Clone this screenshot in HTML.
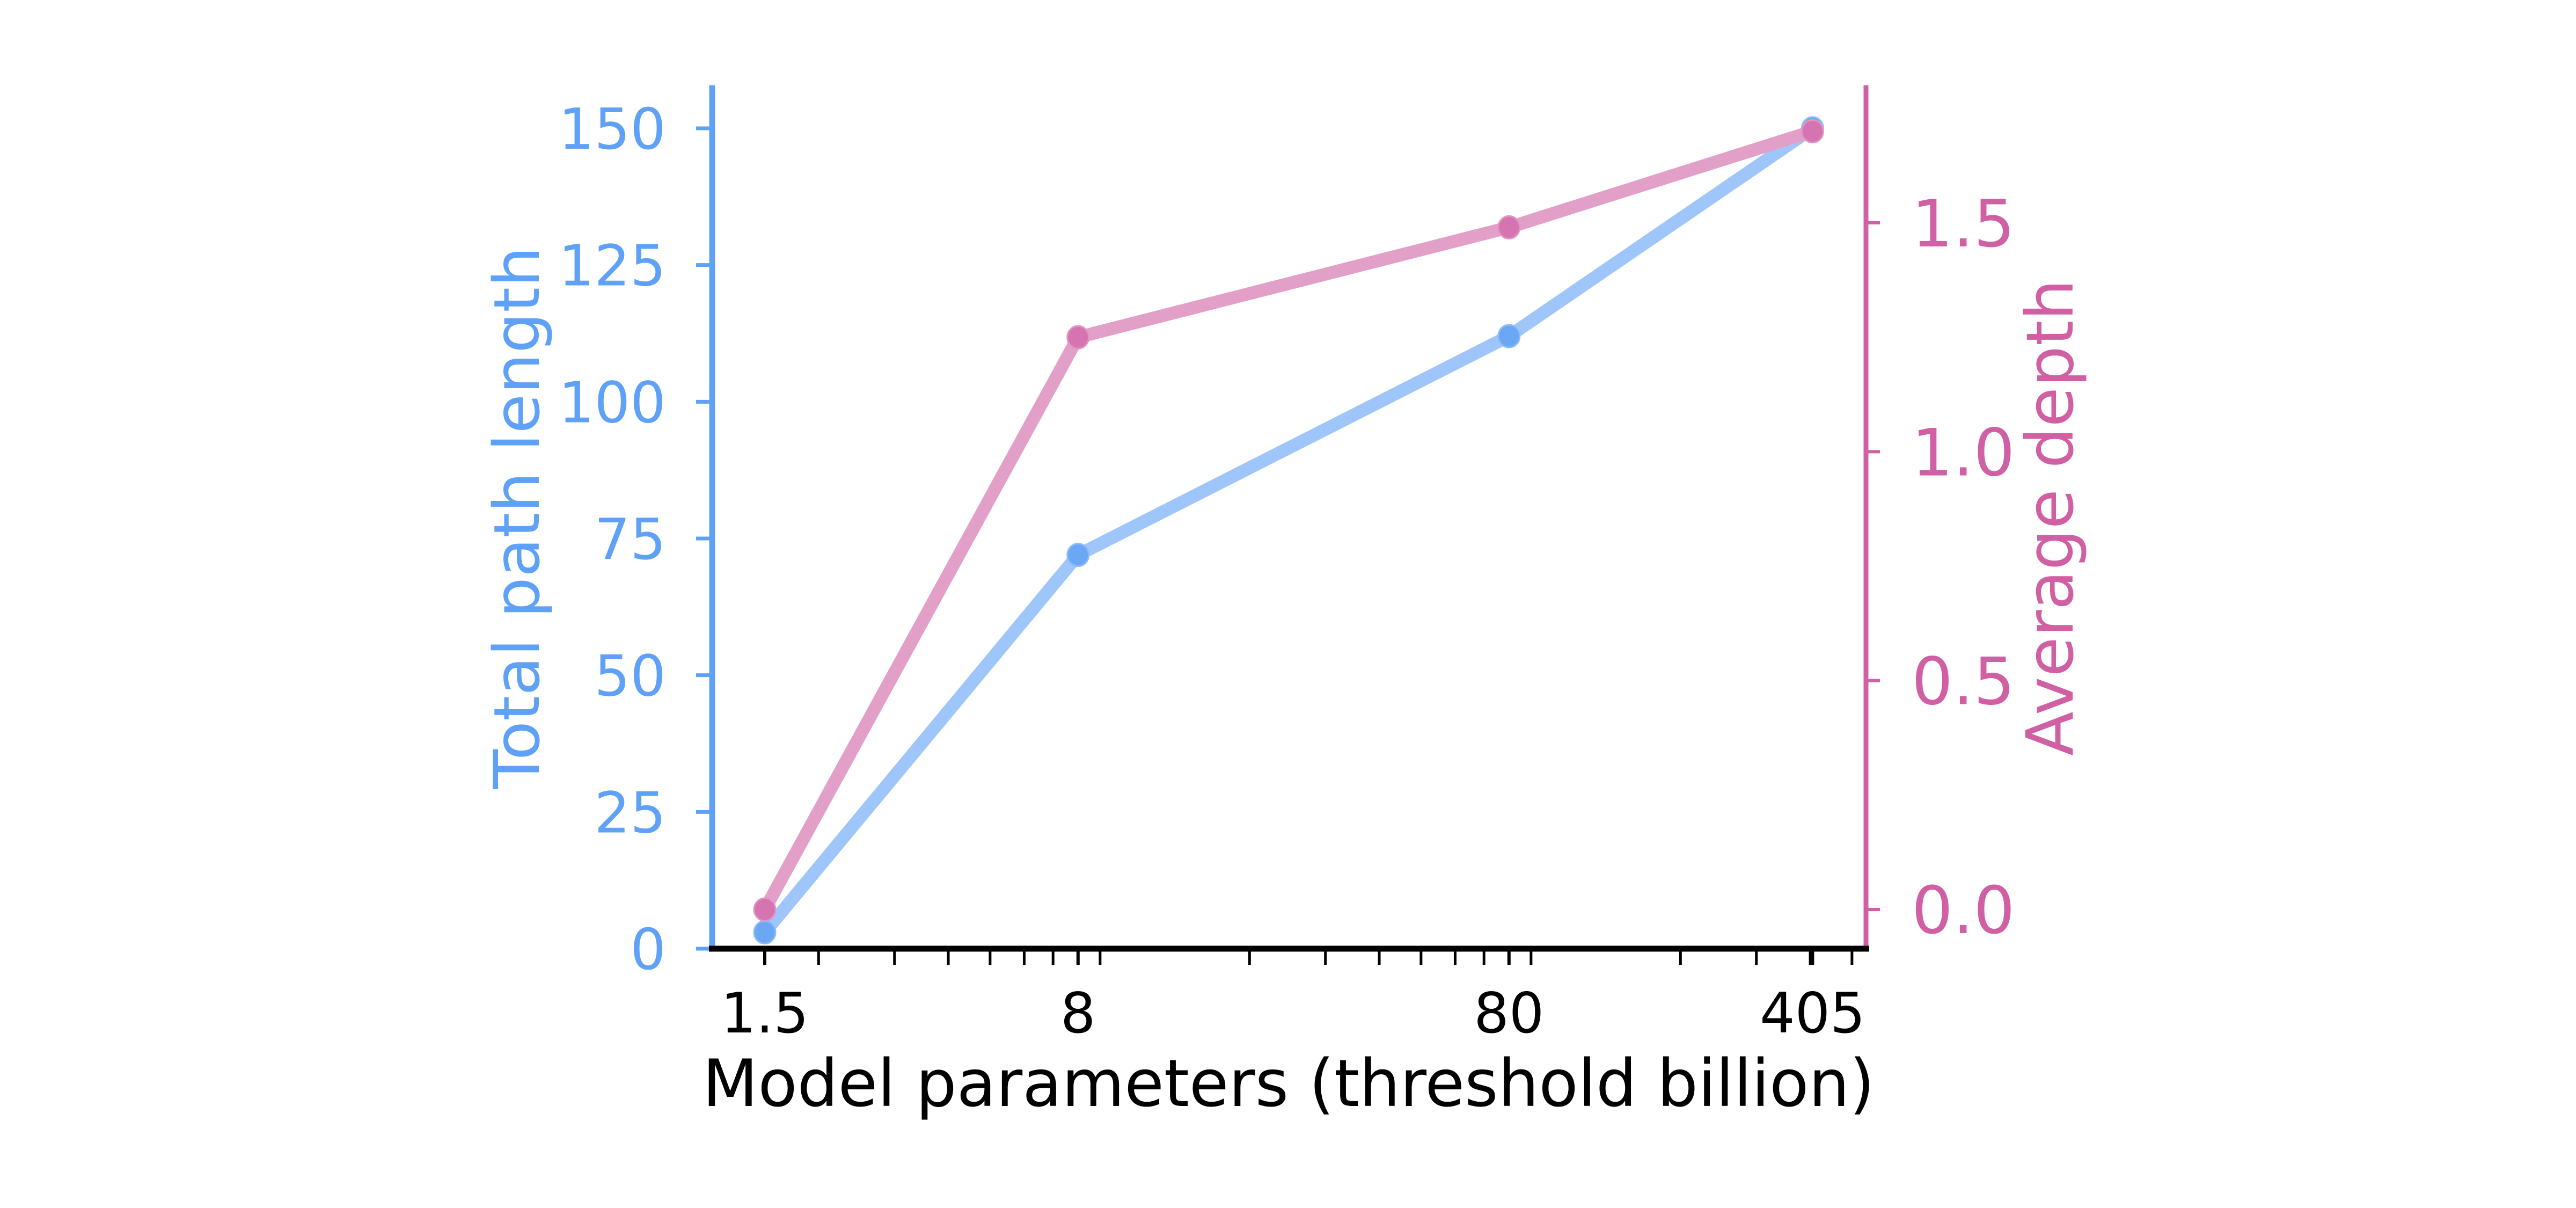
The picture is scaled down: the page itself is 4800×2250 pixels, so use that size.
<!DOCTYPE html>
<html><head><meta charset="utf-8"><style>
html,body{margin:0;padding:0;background:#fff;}
svg{display:block;font-family:"DejaVu Sans","Liberation Sans",sans-serif;}
</style></head><body>
<svg id="chart" width="4800" height="2250" viewBox="0 0 4800 2250" xmlns="http://www.w3.org/2000/svg">
<rect width="4800" height="2250" fill="#fff"/>
<g id="layer"></g>
</svg>
<script>
const xValues = [1.5, 8, 80, 405];
const xTickLabels = ["1.5", "8", "80", "405"];
const pathLength = [3, 72, 112, 150];
const avgDepth = [0.0, 1.25, 1.49, 1.70];
const leftTicks = [0, 25, 50, 75, 100, 125, 150];
const rightTicks = [0.0, 0.5, 1.0, 1.5];
const rightTickLabels = ["0.0", "0.5", "1.0", "1.5"];
const minorTicks = [2,3,4,5,6,7,9,20,30,40,50,60,70,90,200,300,400,500];

const X0 = 1327, X1 = 3477, Y0 = 159, Y1 = 1767;
const PXDEC = 803, XREF = 1425;
function xs(v){ return XREF + (Math.log10(v) - Math.log10(1.5)) * PXDEC; }
function yl(v){ return 1767 - v * (1767 - 239) / 150; }
function yr(v){ return 1694 - v * (1694 - 415) / 1.5; }

const NS = "http://www.w3.org/2000/svg";
const layer = document.getElementById('layer');
function mk(tag, attrs, parent){
  const e = document.createElementNS(NS, tag);
  for (const k in attrs) e.setAttribute(k, attrs[k]);
  (parent || layer).appendChild(e);
  return e;
}
const BLUE = "#5ea1f7", PINK = "#d05fa4";

let el = mk('line', {x1:X0, y1:Y0, x2:X0, y2:Y1+5, stroke:BLUE, 'stroke-width':11});


el = mk('line', {x1:X1, y1:Y0, x2:X1, y2:Y1, stroke:PINK, 'stroke-width':9});



leftTicks.forEach(function(t){
  const y = yl(t);
  const tk = mk('line', {x1:X0-30, y1:y, x2:X0, y2:y, stroke:BLUE, 'stroke-width':7});
  
  
  const tx = mk('text', {x:1241, y:y+38, 'text-anchor':'end', 'font-size':105, fill:BLUE});
  tx.textContent = String(t);
  
  
});
rightTicks.forEach(function(t, i){
  const y = yr(t);
  const tk = mk('line', {x1:X1, y1:y, x2:X1+26, y2:y, stroke:PINK, 'stroke-width':6});
  
  
  const tx = mk('text', {x:3562, y:y+44, 'text-anchor':'start', 'font-size':121, fill:PINK});
  tx.textContent = rightTickLabels[i];
  
  
});

el = mk('line', {x1:X0-6, y1:Y1, x2:X1+6, y2:Y1, stroke:"#000", 'stroke-width':11});


minorTicks.forEach(function(m){
  const x = xs(m);
  const tk = mk('line', {x1:x, y1:Y1, x2:x, y2:Y1+30, stroke:"#000", 'stroke-width':5});
  
  
});
xValues.forEach(function(v, i){
  const x = xs(v);
  const tk = mk('line', {x1:x, y1:Y1, x2:x, y2:Y1+30, stroke:"#000", 'stroke-width':6});
  
  
  const tx = mk('text', {x:x, y:1923, 'text-anchor':'middle', 'font-size':103, fill:"#000"});
  tx.textContent = xTickLabels[i];
  
  
});

el = mk('polyline', {points: xValues.map(function(v,i){return xs(v)+','+yl(pathLength[i]);}).join(' '), fill:'none', stroke:'#9fc6fa', 'stroke-width':24, 'stroke-linejoin':'round'});


xValues.forEach(function(v, i){
  const c = mk('ellipse', {cx:xs(v), cy:yl(pathLength[i]), rx:20, ry:21, fill:'#6aa8f6', stroke:'#8cbcf8', 'stroke-width':3});
  
  
});
el = mk('polyline', {points: xValues.map(function(v,i){return xs(v)+','+yr(avgDepth[i]);}).join(' '), fill:'none', stroke:'#e2a0c9', 'stroke-width':24, 'stroke-linejoin':'round'});


xValues.forEach(function(v, i){
  const c = mk('ellipse', {cx:xs(v), cy:yr(avgDepth[i]), rx:20, ry:21, fill:'#d673b1', stroke:'#e095c3', 'stroke-width':3});
  
  
});

el = mk('text', {x:2401, y:2060, 'text-anchor':'middle', 'font-size':121, fill:'#000', textLength:2184, lengthAdjust:'spacingAndGlyphs'});
el.textContent = 'Model parameters (threshold billion)';


el = mk('text', {x:0, y:0, 'text-anchor':'middle', 'font-size':118, fill:BLUE, transform:'translate(1004,964) rotate(-90)', textLength:1010, lengthAdjust:'spacingAndGlyphs'});
el.textContent = 'Total path length';


el = mk('text', {x:0, y:0, 'text-anchor':'middle', 'font-size':121, fill:PINK, transform:'translate(3862,964) rotate(-90)', textLength:888, lengthAdjust:'spacingAndGlyphs'});
el.textContent = 'Average depth';


</script>
</body></html>
